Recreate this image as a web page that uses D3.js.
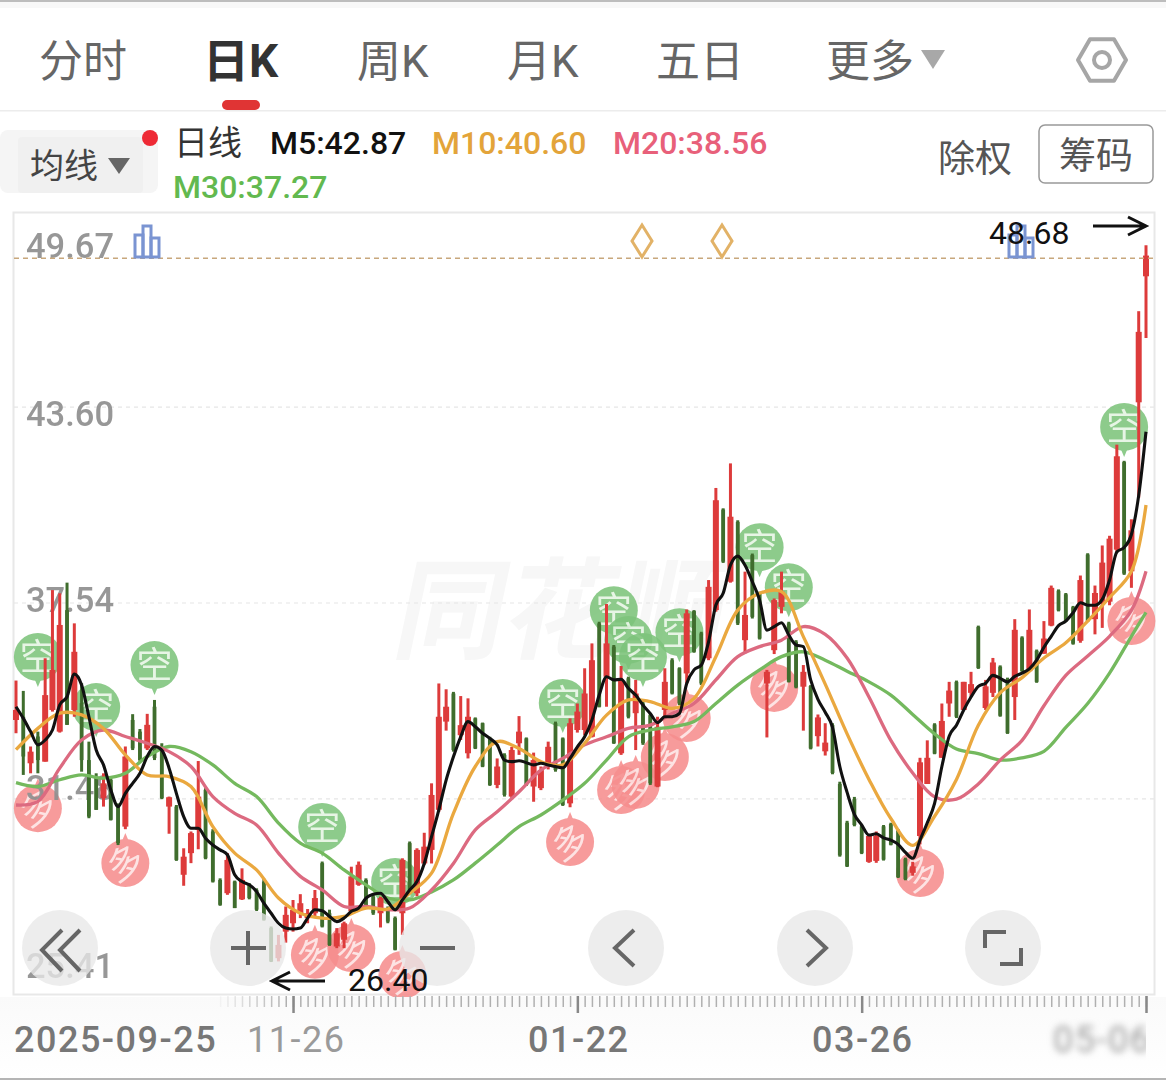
<!DOCTYPE html>
<html><head><meta charset="utf-8">
<script src="https://cdn.jsdelivr.net/npm/d3@7"></script>
<style>html,body{margin:0;padding:0;background:#fff;overflow:hidden}svg{display:block}
text{font-family:Roboto,"Noto Sans CJK SC",sans-serif}</style></head><body>
<svg id="c" width="1166" height="1080"></svg>
<script>
const tabs=["分时","日K","周K","月K","五日","更多"];
const legendItems=["M5:42.87","M10:40.60","M20:38.56","M30:37.27"];
const priceTicks=[25.41,31.48,37.54,43.60,49.67];
const dateLabels=["2025-09-25","11-26","01-22","03-26","05-06"];
const dateBars=[38,77,116,155];
const closeLine=48.21, highValue=48.68, lowValue=26.40;
// colour: 1 up (red), 0 down (green)
const up=[1,0,1,0,1,1,1,0,1,0,0,0,1,0,0,1,0,0,1,0,0,1,0,1,1,1,0,0,0,1,0,1,0,0,0,0,1,1,1,1,1,1,0,0,1,1,1,1,0,0,1,0,0,1,0,1,1,1,1,1,0,1,1,0,0,0,1,0,1,1,0,1,1,1,0,0,1,1,1,1,0,1,0,1,0,1,0,0,1,1,0,0,1,0,0,1,1,0,1,0,1,0,0,1,1,1,0,0,1,0,1,1,0,0,0,0,0,1,1,0,0,0,0,1,1,1,0,1,1,0,1,1,0,1,1,0,0,1,0,1,0,1,1,0,0,0,1,0,1,1,1,1,0,1,1,1];
const highs=[35.14,34.82,33.10,33.56,35.83,37.94,37.84,38.17,36.91,35.06,33.25,32.27,32.27,32.17,31.34,33.10,34.10,33.64,34.11,34.54,33.20,31.55,31.29,29.95,30.47,32.65,31.81,30.54,29.02,29.80,28.95,29.33,28.87,28.71,29.01,27.53,27.27,28.15,28.35,28.53,28.07,28.66,29.54,28.05,27.48,27.68,29.38,29.54,29.02,28.56,28.46,28.15,27.84,29.64,30.16,29.95,30.43,31.96,35.05,34.87,34.79,34.66,34.59,34.00,33.84,33.40,32.73,32.89,33.09,34.04,33.38,32.91,32.48,33.25,33.87,33.38,33.97,34.43,35.52,36.29,36.96,37.51,36.24,35.59,35.26,35.16,34.54,34.13,34.02,35.52,35.83,35.55,37.34,37.32,36.65,38.25,41.10,40.47,41.86,40.10,38.51,39.07,37.89,35.47,37.68,38.51,36.96,36.39,35.62,35.00,34.09,33.82,33.82,32.01,30.80,31.54,30.67,30.33,30.47,30.67,30.74,30.54,29.66,29.53,32.75,33.29,33.82,34.43,35.10,35.14,35.10,35.41,36.84,35.16,35.84,35.61,35.23,37.04,36.51,37.34,36.10,36.98,38.08,37.96,37.85,37.45,38.39,39.08,38.08,39.32,39.62,42.44,41.94,40.13,46.57,48.61];
const bodyTops=[34.23,34.02,32.94,33.41,34.69,35.47,36.86,37.32,36.03,34.44,32.68,32.17,31.96,32.07,31.24,32.79,33.92,33.56,33.77,34.33,32.99,31.53,31.24,29.69,30.42,31.55,31.76,30.47,28.97,29.59,28.92,28.97,28.82,28.66,28.92,27.48,26.96,27.89,28.04,28.25,27.94,28.41,29.49,27.94,27.32,27.63,29.08,29.44,28.97,28.46,28.41,28.04,27.79,29.59,30.11,29.90,30.00,31.60,34.02,34.33,34.74,33.76,34.02,33.97,33.82,33.35,32.48,32.84,32.99,33.56,33.35,32.68,32.37,33.09,33.82,33.35,33.82,34.18,34.74,35.77,36.91,36.29,36.19,35.16,35.21,34.74,34.43,34.07,33.71,35.10,35.77,35.52,37.22,37.29,36.60,38.04,40.72,40.43,40.21,40.05,37.17,39.02,37.86,35.41,37.63,37.89,36.91,36.34,35.41,34.97,34.00,33.22,33.76,31.94,30.74,31.47,30.63,30.33,30.33,30.63,30.70,30.50,29.62,29.39,32.61,32.75,33.78,33.89,34.83,35.10,35.10,35.03,36.80,34.96,35.70,35.57,35.19,36.71,36.47,36.71,36.06,36.44,38.01,37.92,37.81,37.41,38.25,39.04,37.85,38.79,39.53,42.08,41.90,39.79,45.93,48.29];
const bodyBottoms=[33.92,32.79,32.58,32.68,32.63,34.23,33.56,33.77,34.23,32.68,30.93,31.14,31.50,30.83,30.11,30.62,33.04,32.68,33.04,32.74,31.50,31.24,29.59,29.13,29.80,30.52,29.64,28.92,28.20,28.56,28.10,28.37,28.41,28.05,27.74,26.45,26.55,27.37,27.63,27.94,27.79,27.94,27.53,26.96,26.91,27.12,28.00,28.82,28.15,27.94,27.94,27.68,26.81,27.94,28.66,28.56,29.48,29.90,31.14,33.87,32.99,33.45,32.89,33.04,32.48,31.91,31.91,31.60,31.55,33.20,31.91,31.86,31.81,32.48,32.37,31.29,31.34,33.61,33.61,33.40,34.33,35.26,33.20,32.89,34.02,34.13,33.20,31.96,31.86,34.23,34.74,34.43,35.36,36.03,35.05,35.83,37.32,38.82,38.20,36.91,36.39,37.11,36.44,35.05,36.08,37.42,35.10,34.93,34.95,33.04,33.42,32.95,32.28,29.73,29.39,30.67,29.80,29.53,29.56,29.60,30.06,29.06,28.99,29.19,30.33,31.94,32.88,32.75,34.43,34.02,34.23,34.76,35.53,34.29,34.76,34.05,33.51,34.63,35.43,35.43,35.10,35.97,36.84,37.31,36.98,36.28,36.37,36.98,37.04,37.51,37.58,39.19,38.45,38.52,43.75,47.65];
const lows=[33.51,32.22,32.27,32.27,32.63,34.18,33.53,33.77,34.02,32.32,30.88,31.14,31.24,30.81,30.05,30.54,32.99,32.63,32.99,32.68,31.47,30.40,29.56,28.79,29.49,29.92,29.61,28.89,28.17,28.51,28.10,28.35,28.37,28.01,27.71,26.43,26.45,27.03,27.37,27.79,27.63,27.79,27.50,26.93,26.86,26.86,27.94,28.79,28.10,27.89,27.50,27.63,26.79,27.27,28.56,28.46,29.43,29.48,31.08,33.59,32.94,33.30,32.73,33.02,32.46,31.88,31.81,31.55,31.50,32.84,31.88,31.39,31.75,32.39,32.32,31.26,31.22,33.53,33.45,33.38,34.31,34.33,33.18,32.84,33.97,32.99,33.15,31.91,31.84,34.02,34.71,34.38,35.05,36.00,35.00,35.77,37.27,38.78,38.17,36.86,35.98,37.06,36.41,33.38,35.96,37.22,35.08,34.90,33.59,33.01,33.10,32.82,32.24,29.69,29.37,30.63,29.77,29.50,29.50,29.57,30.04,29.03,28.96,29.10,30.07,31.94,32.86,32.75,34.02,33.98,34.23,34.63,35.50,34.23,34.63,34.02,33.49,33.92,35.41,35.43,35.07,35.97,36.82,37.28,36.95,36.25,36.31,36.95,36.57,36.77,37.47,39.12,38.41,38.01,40.80,45.74];
const m5=[34.33,33.97,33.56,33.15,33.30,33.61,34.39,34.64,35.34,35.00,34.02,32.99,32.53,31.76,31.24,31.65,31.96,32.27,32.79,33.10,32.99,32.43,31.65,30.93,30.57,30.57,30.26,30.05,29.90,29.75,29.13,28.92,28.82,28.61,28.25,27.94,27.63,27.48,27.45,27.48,27.79,28.05,28.02,27.84,27.68,27.79,28.00,28.10,28.41,28.53,28.56,28.30,28.05,28.35,28.66,28.92,29.48,30.31,31.14,32.06,32.78,33.40,33.87,33.71,33.51,33.35,33.15,32.68,32.63,32.66,32.60,32.53,32.58,32.53,32.48,32.44,32.73,33.09,33.40,33.92,34.69,35.26,35.16,35.18,34.90,34.69,34.38,34.12,33.84,34.02,34.02,34.12,35.05,35.47,35.62,36.34,37.48,37.84,38.71,38.99,38.71,38.20,37.63,36.70,36.81,36.93,36.55,36.24,36.19,35.16,34.56,34.16,33.69,32.48,31.68,31.00,30.67,30.36,30.40,30.27,30.20,30.07,29.82,29.64,30.20,30.74,31.34,32.48,33.42,33.76,34.23,34.63,34.96,35.06,35.30,35.21,35.10,35.27,35.37,35.50,35.77,36.17,36.51,36.84,36.98,37.24,37.55,37.47,37.47,37.65,38.25,39.12,39.26,39.66,40.87,42.84];
const sampleBars=d3.range(0,154,3).concat([155]);
const m10=[33.0,33.66,34.13,34.08,33.66,32.84,32.22,32.17,31.86,30.62,29.80,29.28,28.41,27.94,27.79,27.84,28.10,28.07,28.56,29.18,31.03,32.48,33.25,33.04,32.63,32.53,33.20,34.07,34.54,34.49,34.28,34.59,35.88,37.32,37.84,37.89,36.50,35.03,33.49,32.08,30.87,30.04,30.94,32.08,33.76,34.76,35.23,35.84,36.31,36.98,37.71,38.52,40.57];
const m20=[31.29,31.40,32.43,33.30,33.61,33.41,33.20,32.94,32.48,31.55,31.03,30.67,29.80,29.08,28.66,28.15,28.15,28.05,28.10,28.66,29.48,30.52,31.08,31.70,32.37,32.73,33.15,33.40,33.66,33.76,34.12,34.43,35.16,35.88,36.19,36.39,36.81,36.57,35.84,34.63,33.29,32.28,31.54,31.47,31.94,32.68,33.29,34.36,35.30,35.90,36.51,37.31,38.52];
const m30=[31.98,31.86,32.07,32.22,32.12,32.27,32.79,33.10,32.94,32.53,31.96,31.55,30.73,30.11,29.80,29.28,28.82,28.41,28.35,28.60,28.97,29.49,30.05,30.62,30.98,31.44,31.96,32.68,33.40,33.61,33.71,33.87,34.43,35.00,35.47,35.88,36.03,35.77,35.43,35.10,34.69,34.09,33.49,33.02,32.88,32.68,32.75,32.95,33.69,34.43,35.37,36.51,37.25];
const bearBars=[3,11,19,42,52,75,82,84,86,91,102,106,152];
const bearPrices=[34.94,33.39,34.69,29.68,27.98,33.52,36.39,35.47,34.94,35.71,38.34,37.10,42.06];
const bullBars=[3,15,41,46,53,76,83,85,89,92,104,124,153];
const bullPrices=[32.12,30.42,27.58,27.79,26.96,31.07,32.68,32.84,33.70,34.91,35.84,30.11,37.91];

const svg=d3.select("#c");
const x=d3.scaleLinear().domain([0,155]).range([16,1146]);
const y=d3.scaleLinear().domain([25.41,49.67]).range([995,211]);
const defs=svg.append("defs");
defs.append("filter").attr("id","blur").append("feGaussianBlur").attr("stdDeviation",3.6);
const bg=defs.append("linearGradient").attr("id","foot").attr("x1",0).attr("y1",0).attr("x2",0).attr("y2",1);
bg.append("stop").attr("offset",0).attr("stop-color","#fafafa");
bg.append("stop").attr("offset",1).attr("stop-color","#ffffff");
defs.append("clipPath").attr("id","dateClip").append("rect").attr("x",0).attr("y",1000).attr("width",1146).attr("height",80);

// header
svg.append("rect").attr("x",0).attr("y",0).attr("width",1166).attr("height",2).attr("fill","#bdbdbd");
svg.append("rect").attr("x",0).attr("y",2).attr("width",1166).attr("height",6).attr("fill","#f8f8f8");
const tabX=[39,203,357,507,656,826];
tabs.forEach((t,i)=>{
  svg.append("text").attr("x",tabX[i]).attr("y",77).attr("font-size",i==1?46:44)
   .attr("font-weight",i==1?700:400).attr("fill",i==1?"#333":"#666").text(t);
});
svg.append("path").attr("d","M921,50H945L933,69Z").attr("fill","#a8a8a8");
svg.append("rect").attr("x",222).attr("y",100).attr("width",38).attr("height",10).attr("rx",5).attr("fill","#e03434");
svg.append("rect").attr("x",0).attr("y",110).attr("width",1166).attr("height",1.5).attr("fill","#ececec");
// settings hexagon
const hex=d3.range(6).map(k=>[1102+24*Math.cos(k*Math.PI/3),60+24*Math.sin(k*Math.PI/3)]);
svg.append("path").attr("d",d3.line().curve(d3.curveLinearClosed)(hex)).attr("fill","none").attr("stroke","#a6a6a6").attr("stroke-width",4).attr("stroke-linejoin","round");
svg.append("circle").attr("cx",1102).attr("cy",60).attr("r",8).attr("fill","none").attr("stroke","#a6a6a6").attr("stroke-width",4);

// legend row
svg.append("rect").attr("x",0).attr("y",130).attr("width",158).attr("height",63).attr("rx",8).attr("fill","#f5f5f5");
svg.append("rect").attr("x",18).attr("y",137).attr("width",125).attr("height",56).attr("rx",4).attr("fill","#f0f0f0");
svg.append("text").attr("x",30).attr("y",178).attr("font-size",34).attr("fill","#444").text("均线");
svg.append("path").attr("d","M108,158H130L119,174Z").attr("fill","#666");
svg.append("circle").attr("cx",150).attr("cy",138).attr("r",8).attr("fill","#ee2a35");
svg.append("text").attr("x",174).attr("y",155).attr("font-size",34).attr("fill","#333").text("日线");
const legX=[270,432,613,173],legY=[154,154,154,198],legC=["#111","#e3a43a","#e8607a","#62b94f"];
legendItems.forEach((t,i)=>svg.append("text").attr("x",legX[i]).attr("y",legY[i]).attr("font-size",32).attr("font-weight",500).attr("fill",legC[i]).text(t));
svg.append("text").attr("x",938).attr("y",172).attr("font-size",37).attr("fill","#555").text("除权");
svg.append("rect").attr("x",1039).attr("y",125).attr("width",114).attr("height",58).attr("rx",6).attr("fill","#fff").attr("stroke","#999").attr("stroke-width",1.5);
svg.append("text").attr("x",1059).attr("y",169).attr("font-size",37).attr("fill","#555").text("筹码");

// frame, watermark, grid
svg.append("rect").attr("x",13.5).attr("y",212.5).attr("width",1141).attr("height",782).attr("fill","#fff").attr("stroke","#e8e8e8").attr("stroke-width",2);
svg.append("text").attr("transform","translate(390,650) skewX(-12)").attr("font-size",110).attr("font-weight",700).attr("fill","#f7f7f7").text("同花顺");
svg.append("g").selectAll("line").data(priceTicks.slice(1,4)).join("line")
  .attr("x1",14).attr("x2",1154).attr("y1",d=>y(d)).attr("y2",d=>y(d))
  .attr("stroke","#e6e6e6").attr("stroke-dasharray","4 4").attr("stroke-width",1.2);

// signal pins
function pins(bars,prices,dir,fill,label,rot){
  const g=svg.append("g").selectAll("g").data(bars).join("g")
    .attr("transform",(b,i)=>`translate(${x(b)},${y(prices[i])})`).attr("opacity",.88);
  g.append("path").attr("d",`M0,0L-10,${dir*24}H10Z`).attr("fill",fill);
  g.append("circle").attr("cy",dir*30).attr("r",24).attr("fill",fill);
  g.append("text").attr("text-anchor","middle").attr("font-size",36).attr("fill",label=="空"?"#e4f4e2":"#fde0e0")
    .attr("transform",`translate(0,${dir*30+13}) rotate(${rot},0,-13)`).text(label);
}
pins(bearBars,bearPrices,-1,"#7ec47c","空",0);
pins(bullBars,bullPrices,1,"#f68e8e","多",-28);

// price labels
const labelBase=[978,800,612,426,258];
svg.append("g").selectAll("text").data(priceTicks).join("text")
  .attr("x",26).attr("y",(d,i)=>labelBase[i]).attr("font-size",34.5).attr("font-weight",500).attr("fill","#8f8f8f").attr("opacity",.92).text(d=>d.toFixed(2));

// candles
const red="#dd3b3b",green="#3f6d2d";
const idx=d3.range(highs.length);
const cg=svg.append("g");
cg.selectAll("line").data(idx).join("line")
  .attr("x1",i=>x(i)).attr("x2",i=>x(i)).attr("y1",i=>y(highs[i])).attr("y2",i=>y(lows[i]))
  .attr("stroke",i=>up[i]?red:green).attr("stroke-width",3);
cg.selectAll("rect").data(idx).join("rect")
  .attr("x",i=>x(i)-(up[i]?3:1.9)).attr("width",i=>up[i]?6:3.8)
  .attr("y",i=>y(bodyTops[i])).attr("height",i=>Math.max(1,y(bodyBottoms[i])-y(bodyTops[i])))
  .attr("fill",i=>up[i]?red:green);

// moving averages
const lineAll=d3.line().x((d,i)=>x(i)).y(d=>y(d)).curve(d3.curveMonotoneX);
const lineS=d3.line().x((d,i)=>x(sampleBars[i])).y(d=>y(d)).curve(d3.curveCatmullRom.alpha(.5));
[[m30,"#74b95e"],[m20,"#dc6a80"],[m10,"#eaa83f"]].forEach(([a,c])=>
  svg.append("path").attr("d",lineS(a)).attr("fill","none").attr("stroke",c).attr("stroke-width",3.3));
svg.append("path").attr("d",lineAll(m5)).attr("fill","none").attr("stroke","#111").attr("stroke-width",3.1);

// close line and top symbols
svg.append("line").attr("x1",14).attr("x2",1154).attr("y1",y(closeLine)).attr("y2",y(closeLine)).attr("stroke","#c8a77c").attr("stroke-width",1.6).attr("stroke-dasharray","5 4");
function chips(cx){
  const g=svg.append("g").attr("fill","none").attr("stroke","#7a94d2").attr("stroke-width",3);
  g.append("rect").attr("x",cx-12).attr("y",235).attr("width",8).attr("height",22);
  g.append("rect").attr("x",cx-4).attr("y",226).attr("width",8).attr("height",31);
  g.append("rect").attr("x",cx+4).attr("y",238).attr("width",8).attr("height",19);
}
chips(147);chips(1021);
[642,722].forEach(cx=>svg.append("path").attr("d",`M${cx},225L${cx+10},241L${cx},257L${cx-10},241Z`).attr("fill","none").attr("stroke","#e2b267").attr("stroke-width",3));

function arrow(x0,x1,yy){
  const d=x1>x0?-1:1;
  svg.append("path").attr("d",`M${x0},${yy}H${x1}M${x1+d*18},${yy-9}L${x1},${yy}L${x1+d*18},${yy+9}`).attr("fill","none").attr("stroke","#111").attr("stroke-width",3);
}
svg.append("text").attr("x",989).attr("y",244).attr("font-size",32).attr("fill","#111").text(highValue.toFixed(2));
arrow(1093,1146,226);

// control buttons
const btnX=[60,248,437,626,815,1003];
svg.append("g").selectAll("circle").data(btnX).join("circle").attr("cx",d=>d).attr("cy",948).attr("r",38)
  .attr("fill","#e8e8e8").attr("opacity",.78);
const icons=["M62,930L42,950L62,971M80,930L60,950L80,971","M231,948H266M248,931V965","M420,948H455","M634,930L615,948L634,966","M807,930L826,948L807,966","M985,948V932H1006M1021,948V964H1000"];
icons.forEach(d=>svg.append("path").attr("d",d).attr("fill","none").attr("stroke","#666").attr("stroke-width",4));
arrow(325,272,981);
svg.append("text").attr("x",348).attr("y",991).attr("font-size",32).attr("fill","#111").text(lowValue.toFixed(2));

// time axis
svg.append("rect").attr("x",0).attr("y",997).attr("width",1166).attr("height",81).attr("fill","url(#foot)");
const minorAxis=d3.axisBottom(x).tickValues(d3.range(28,156)).tickSize(11).tickFormat("").tickSizeOuter(0);
const gm=svg.append("g").attr("transform","translate(0,996)").call(minorAxis);
gm.select(".domain").remove();
gm.selectAll("line").attr("stroke","#b0b0b0").attr("stroke-width",1.5).attr("opacity",(d)=>Math.min(1,(d-27)/10));
const majorAxis=d3.axisBottom(x).tickValues(dateBars).tickSize(17).tickFormat("").tickSizeOuter(0);
const gj=svg.append("g").attr("transform","translate(0,996)").call(majorAxis);
gj.select(".domain").remove();
gj.selectAll("line").attr("stroke","#888").attr("stroke-width",2.5);
const dateX=[14,247,528,812];
dateLabels.slice(0,4).forEach((t,i)=>svg.append("text").attr("x",dateX[i]).attr("y",1052).attr("font-size",36).attr("letter-spacing",1.5)
  .attr("font-weight",i==1?400:500).attr("fill",i==1?"#9a9a9a":"#777").text(t));
svg.append("g").attr("clip-path","url(#dateClip)").append("text").attr("x",1053).attr("y",1052).attr("font-size",36).attr("letter-spacing",1.5)
  .attr("fill","#999").attr("filter","url(#blur)").text(dateLabels[4]);
svg.append("rect").attr("x",0).attr("y",1078).attr("width",1166).attr("height",2).attr("fill","#b5b5b5");
</script></body></html>
